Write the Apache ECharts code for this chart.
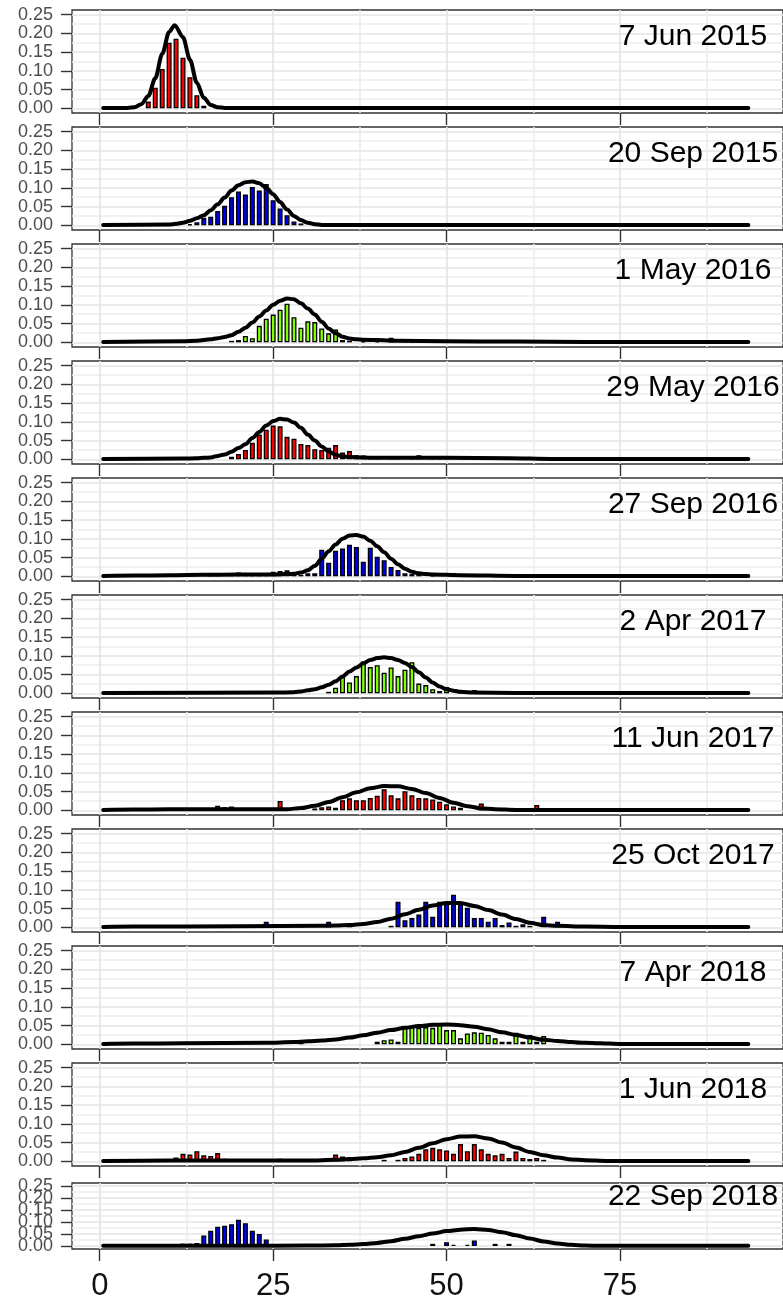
<!DOCTYPE html>
<html><head><meta charset="utf-8">
<script src="https://cdn.jsdelivr.net/npm/echarts@6/dist/echarts.min.js"></script>
<style>html,body{margin:0;padding:0;background:#fff}#chart{width:783px;height:1302px}</style>
</head><body><div id="chart"></div>
<script>
// ---------------- DATA ----------------
const panelTitles = ['7 Jun 2015','20 Sep 2015','1 May 2016','29 May 2016','27 Sep 2016','2 Apr 2017','11 Jun 2017','25 Oct 2017','7 Apr 2018','1 Jun 2018','22 Sep 2018'];
const xTickValues = [0, 25, 50, 75];
const yTickValues = [0, 0.05, 0.10, 0.15, 0.20, 0.25];
const yLabelsEven = [0, 0.10, 0.20];
const yLabelsOdd = [0.05, 0.15, 0.25];

// histogram densities [bin, density]
const hist1 = [[7,0.018],[8,0.055],[9,0.105],[10,0.175],[11,0.186],[12,0.135],[13,0.083],[14,0.035],[15,0.007],[33,0.003],[34,0.004],[36,0.003],[40,0.002],[47,0.002],[51,0.004],[52,0.005],[55,0.002]];
const hist2 = [[13,0.003],[14,0.008],[15,0.02],[16,0.023],[17,0.038],[18,0.052],[19,0.075],[20,0.09],[21,0.082],[22,0.102],[23,0.093],[24,0.11],[25,0.067],[26,0.045],[27,0.027],[28,0.01],[29,0.005],[43,0.003],[49,0.002],[56,0.002]];
const hist3 = [[19,0.004],[20,0.006],[21,0.017],[22,0.011],[23,0.044],[24,0.063],[25,0.074],[26,0.087],[27,0.103],[28,0.067],[29,0.039],[30,0.056],[31,0.054],[32,0.037],[33,0.024],[34,0.034],[35,0.006],[36,0.004],[38,0.003],[40,0.003],[42,0.012],[44,0.004],[45,0.003],[47,0.005],[48,0.005],[50,0.004],[53,0.004],[55,0.003],[59,0.003],[62,0.004],[70,0.003]];
const hist4 = [[19,0.007],[20,0.014],[21,0.025],[22,0.044],[23,0.066],[24,0.079],[25,0.09],[26,0.088],[27,0.06],[28,0.055],[29,0.041],[30,0.038],[31,0.027],[32,0.025],[33,0.031],[34,0.038],[35,0.018],[36,0.022],[37,0.011],[38,0.01],[39,0.006],[40,0.005],[42,0.004],[43,0.004],[45,0.005],[46,0.011],[48,0.005],[49,0.004],[50,0.005],[52,0.006],[53,0.004],[55,0.004],[58,0.006],[59,0.003]];
const hist5 = [[16,0.004],[17,0.008],[19,0.009],[20,0.01],[21,0.009],[22,0.004],[23,0.005],[24,0.008],[25,0.012],[26,0.014],[27,0.016],[28,0.004],[29,0.004],[30,0.008],[31,0.008],[32,0.071],[33,0.036],[34,0.068],[35,0.074],[36,0.084],[37,0.078],[38,0.039],[39,0.076],[40,0.052],[41,0.043],[42,0.025],[43,0.017],[44,0.008],[45,0.006],[46,0.004],[48,0.003],[51,0.008],[58,0.005],[60,0.005],[63,0.004]];
const hist6 = [[28,0.004],[33,0.004],[34,0.015],[35,0.044],[36,0.029],[37,0.046],[38,0.085],[39,0.07],[40,0.075],[41,0.055],[42,0.069],[43,0.046],[44,0.063],[45,0.083],[46,0.026],[47,0.022],[48,0.011],[49,0.006],[50,0.017],[52,0.004],[54,0.009],[61,0.006]];
const hist7 = [[12,0.004],[13,0.005],[15,0.006],[16,0.005],[17,0.012],[18,0.008],[19,0.01],[20,0.004],[22,0.003],[23,0.004],[24,0.004],[26,0.025],[31,0.005],[32,0.008],[33,0.01],[34,0.007],[35,0.027],[36,0.032],[37,0.027],[38,0.027],[39,0.033],[40,0.039],[41,0.056],[42,0.04],[43,0.032],[44,0.051],[45,0.04],[46,0.033],[47,0.032],[48,0.029],[49,0.023],[50,0.016],[51,0.01],[52,0.007],[55,0.018],[63,0.014]];
const hist8 = [[5,0.005],[7,0.005],[9,0.004],[10,0.005],[11,0.005],[14,0.005],[21,0.005],[24,0.015],[29,0.005],[33,0.015],[36,0.004],[42,0.004],[43,0.068],[44,0.019],[45,0.025],[46,0.034],[47,0.068],[48,0.028],[49,0.068],[50,0.068],[51,0.087],[52,0.061],[53,0.052],[54,0.025],[55,0.025],[56,0.015],[57,0.025],[58,0.006],[59,0.013],[60,0.004],[61,0.008],[62,0.004],[64,0.028],[66,0.015],[70,0.006]];
const hist9 = [[14,0.006],[15,0.006],[29,0.007],[40,0.007],[41,0.011],[42,0.013],[43,0.007],[44,0.044],[45,0.046],[46,0.044],[47,0.046],[48,0.044],[49,0.057],[50,0.038],[51,0.038],[52,0.016],[53,0.029],[54,0.032],[55,0.031],[56,0.025],[57,0.016],[58,0.007],[59,0.007],[60,0.031],[61,0.007],[62,0.025],[63,0.007],[64,0.022],[69,0.007],[72,0.007]];
const hist10 = [[11,0.01],[12,0.02],[13,0.018],[14,0.027],[15,0.016],[16,0.014],[17,0.022],[18,0.007],[22,0.006],[26,0.007],[31,0.006],[32,0.006],[33,0.009],[34,0.018],[35,0.013],[36,0.008],[41,0.004],[43,0.004],[44,0.009],[45,0.013],[46,0.02],[47,0.032],[48,0.036],[49,0.032],[50,0.029],[51,0.02],[52,0.046],[53,0.027],[54,0.046],[55,0.032],[56,0.02],[57,0.016],[58,0.02],[59,0.009],[60,0.026],[61,0.009],[62,0.006],[63,0.009],[64,0.004]];
const hist11 = [[7,0.004],[8,0.005],[9,0.008],[12,0.01],[13,0.01],[14,0.012],[15,0.044],[16,0.064],[17,0.08],[18,0.084],[19,0.091],[20,0.109],[21,0.095],[22,0.064],[23,0.05],[24,0.027],[33,0.004],[35,0.005],[48,0.009],[50,0.016],[51,0.005],[53,0.005],[54,0.023],[57,0.009],[59,0.009]];

// fitted density curves [x, density]
const curve1 = [[0.5,0.001],[4,0.001],[5,0.003],[6,0.011],[7,0.033],[8,0.08],[9,0.145],[10,0.204],[10.8,0.222],[12,0.19],[13,0.13],[14,0.068],[15,0.028],[16,0.009],[17,0.003],[18,0.001],[93.5,0.001]];
const curve2 = [[0.5,0.001],[10,0.002],[11,0.004],[12,0.007],[13,0.012],[14,0.019],[15,0.027],[16,0.04],[17,0.056],[18,0.074],[19,0.093],[20,0.107],[21,0.115],[22,0.117],[23,0.112],[24,0.1],[25,0.083],[26,0.062],[27,0.042],[28,0.025],[29,0.014],[30,0.007],[31,0.003],[32,0.001],[93.5,0.001]];
const curve3 = [[0.5,0.001],[12,0.003],[14,0.004],[16,0.008],[17,0.011],[18,0.014],[19,0.019],[20,0.028],[21,0.039],[22,0.053],[23,0.069],[24,0.085],[25,0.1],[26,0.111],[27,0.117],[28,0.115],[29,0.104],[30,0.09],[31,0.074],[32,0.055],[33,0.037],[34,0.024],[35,0.015],[36,0.01],[37,0.008],[38,0.007],[40,0.006],[43,0.004],[50,0.003],[60,0.002],[70,0.001],[93.5,0.001]];
const curve4 = [[0.5,0.001],[12,0.002],[14,0.003],[15,0.004],[16,0.005],[17,0.009],[18,0.013],[19,0.02],[20,0.03],[21,0.04],[22,0.057],[23,0.073],[24,0.09],[25,0.102],[26,0.108],[27,0.106],[28,0.098],[29,0.084],[30,0.066],[31,0.05],[32,0.034],[33,0.021],[34,0.012],[35,0.008],[36,0.006],[38,0.005],[40,0.004],[50,0.004],[59,0.003],[65,0.001],[93.5,0.001]];
const curve5 = [[0.5,0.001],[5,0.002],[10,0.003],[15,0.004],[20,0.005],[25,0.005],[27,0.006],[28,0.007],[29,0.01],[30,0.016],[31,0.028],[32,0.047],[33,0.067],[34,0.085],[35,0.1],[36,0.109],[37,0.11],[38,0.106],[39,0.095],[40,0.08],[41,0.064],[42,0.047],[43,0.032],[44,0.02],[45,0.012],[46,0.008],[47,0.006],[48,0.005],[52,0.003],[60,0.001],[93.5,0.001]];
const curve6 = [[0.5,0.001],[25,0.002],[28,0.003],[29,0.005],[30,0.008],[31,0.011],[32,0.016],[33,0.023],[34,0.032],[35,0.045],[36,0.058],[37,0.069],[38,0.08],[39,0.089],[40,0.094],[41,0.096],[42,0.094],[43,0.089],[44,0.081],[45,0.07],[46,0.056],[47,0.042],[48,0.029],[49,0.018],[50,0.011],[51,0.007],[52,0.004],[54,0.002],[60,0.001],[93.5,0.001]];
const curve7 = [[0.5,0.001],[5,0.002],[10,0.003],[27,0.003],[29,0.006],[31,0.012],[33,0.022],[35,0.035],[37,0.048],[39,0.059],[41,0.065],[43,0.064],[45,0.057],[47,0.046],[49,0.033],[51,0.02],[53,0.011],[55,0.005],[57,0.003],[60,0.001],[93.5,0.001]];
const curve8 = [[0.5,0.001],[5,0.002],[20,0.003],[32,0.004],[34,0.005],[36,0.006],[38,0.009],[40,0.014],[42,0.023],[44,0.035],[46,0.047],[48,0.058],[50,0.065],[52,0.065],[54,0.057],[56,0.046],[58,0.034],[60,0.022],[62,0.012],[64,0.006],[66,0.004],[70,0.002],[75,0.001],[93.5,0.001]];
const curve9 = [[0.5,0.001],[5,0.002],[12,0.003],[24,0.004],[28,0.006],[30,0.008],[32,0.01],[34,0.013],[36,0.018],[38,0.024],[40,0.031],[42,0.038],[44,0.044],[46,0.049],[48,0.052],[50,0.053],[52,0.051],[54,0.047],[56,0.04],[58,0.032],[60,0.025],[62,0.018],[64,0.012],[66,0.009],[68,0.006],[70,0.004],[72,0.003],[75,0.001],[93.5,0.001]];
const curve10 = [[0.5,0.001],[10,0.002],[30,0.002],[34,0.004],[36,0.006],[38,0.008],[40,0.011],[42,0.016],[44,0.025],[46,0.036],[48,0.048],[50,0.059],[52,0.066],[54,0.067],[56,0.061],[58,0.05],[60,0.037],[62,0.025],[64,0.016],[66,0.01],[68,0.005],[70,0.003],[73,0.001],[93.5,0.001]];
const curve11 = [[0.5,0.001],[20,0.001],[30,0.002],[34,0.003],[36,0.005],[38,0.008],[40,0.013],[42,0.02],[44,0.03],[46,0.041],[48,0.052],[50,0.062],[52,0.068],[54,0.071],[56,0.067],[58,0.057],[60,0.045],[62,0.031],[64,0.019],[66,0.01],[68,0.005],[70,0.002],[72,0.001],[93.5,0.001]];

const histograms = [hist1,hist2,hist3,hist4,hist5,hist6,hist7,hist8,hist9,hist10,hist11];
const curves = [curve1,curve2,curve3,curve4,curve5,curve6,curve7,curve8,curve9,curve10,curve11];

// ---------------- STYLE / LAYOUT ----------------
const RED = '#ff0000', BLUE = '#0000f0', GREEN = '#7fff00';
const barColors = [RED, BLUE, GREEN, RED, BLUE, GREEN, RED, BLUE, GREEN, RED, BLUE];
const X_MIN = -4, X_MAX = 98.5, Y_MIN = -0.0125, Y_MAX = 0.2625;
const GRID_LEFT = 72, GRID_WIDTH = 717.5, PITCH = 117, FIRST_TOP = 10;
const TRANSPARENT = 'rgba(0,0,0,0)';
const MAJOR = '#e4e4e4', MINOR = '#ededed';
// x split lines with interval 0.5 starting at -4: index 8 -> 0, index 33 -> 12.5 (cycle of 50 = 25 units)
const xSplitColors = [];
for (let i = 0; i < 50; i++) xSplitColors.push(i === 8 ? MAJOR : (i === 33 ? MINOR : TRANSPARENT));
// y split lines with interval 0.0125 starting at -0.0125: index1 -> 0, index3 -> 0.025
const ySplitColors = [TRANSPARENT, MAJOR, TRANSPARENT, MINOR];
const yLabelStyle = { fontSize: 18, fontFamily: 'Liberation Sans', color: '#4d4d4d', margin: 19,
  showMinLabel: true, showMaxLabel: true, hideOverlap: false, formatter: v => Number(v).toFixed(2) };

const grids = [], xAxes = [], yAxes = [], series = [], graphics = [];
const N = panelTitles.length;
for (let k = 0; k < N; k++) {
  const last = k === N - 1;
  const top = last ? 1183 : FIRST_TOP + PITCH * k;
  const height = last ? 67 : 103;
  grids.push({ left: GRID_LEFT, top: top, width: GRID_WIDTH, height: height, show: true,
    backgroundColor: '#ffffff', borderColor: '#333333', borderWidth: 1.3, containLabel: false });
  xAxes.push({ gridIndex: k, type: 'value', min: X_MIN, max: X_MAX, position: 'bottom',
    axisLine: { show: false, onZero: false }, splitLine: { show: false },
    axisTick: { show: true, length: 12, customValues: xTickValues, lineStyle: { color: '#333333', width: 1.4 } },
    axisLabel: { show: last, customValues: xTickValues, margin: 22, fontSize: 31,
      showMinLabel: true, showMaxLabel: true,
      fontFamily: 'Liberation Sans', color: '#111111', formatter: v => String(v) } });
  xAxes.push({ gridIndex: k, type: 'value', min: X_MIN, max: X_MAX, interval: 0.5, position: 'top',
    axisLine: { show: false, onZero: false }, axisTick: { show: false }, axisLabel: { show: false },
    splitLine: { show: true, lineStyle: { color: xSplitColors, width: 1.6 } } });
  yAxes.push({ gridIndex: k, type: 'value', min: Y_MIN, max: Y_MAX, position: 'left',
    axisLine: { show: false, onZero: false }, splitLine: { show: false },
    axisTick: { show: true, length: 11, customValues: yTickValues, lineStyle: { color: '#333333', width: 1.4 } },
    axisLabel: Object.assign({ show: true, customValues: yLabelsEven }, yLabelStyle) });
  yAxes.push({ gridIndex: k, type: 'value', min: Y_MIN, max: Y_MAX, interval: 0.0125, position: 'left', offset: 0,
    axisLine: { show: false, onZero: false }, axisTick: { show: false },
    axisLabel: Object.assign({ show: true, customValues: yLabelsOdd }, yLabelStyle),
    splitLine: { show: true, lineStyle: { color: ySplitColors, width: 1.5 } } });
  series.push({ type: 'bar', xAxisIndex: 2 * k, yAxisIndex: 2 * k, data: histograms[k],
    barWidth: 5, z: 2, silent: true, animation: false,
    itemStyle: { color: barColors[k], borderColor: '#000000', borderWidth: 1.3 } });
  series.push({ type: 'line', xAxisIndex: 2 * k, yAxisIndex: 2 * k, data: curves[k],
    smooth: 0.3, smoothMonotone: 'x', showSymbol: false, symbol: 'none', z: 3, silent: true, animation: false, clip: true,
    lineStyle: { color: '#000000', width: 4, join: 'round', cap: 'round' } });
  graphics.push({ type: 'text', x: 693, y: last ? top + 14 : top + 27, z: 100, silent: true,
    style: { text: panelTitles[k], font: '30px "Liberation Sans"', fill: '#000000',
      align: 'center', verticalAlign: 'middle', textAlign: 'center', textVerticalAlign: 'middle' } });
}

const chart = echarts.init(document.getElementById('chart'), null, { renderer: 'canvas' });
chart.setOption({
  backgroundColor: '#ffffff',
  animation: false,
  grid: grids, xAxis: xAxes, yAxis: yAxes, series: series, graphic: graphics
});
</script></body></html>
